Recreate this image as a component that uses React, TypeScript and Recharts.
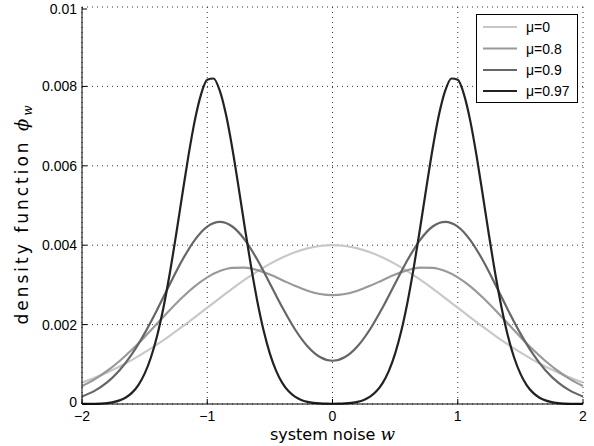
import { LineChart, Line, XAxis, YAxis, CartesianGrid } from 'recharts';

// grid for the three wide curves (step 0.1)
const wCoarse = [
  -2, -1.9, -1.8, -1.7, -1.6, -1.5, -1.4, -1.3, -1.2, -1.1, -1, -0.9, -0.8, -0.7, -0.6, -0.5, -0.4, -0.3, -0.2, -0.1,
  0, 0.1, 0.2, 0.3, 0.4, 0.5, 0.6, 0.7, 0.8, 0.9, 1, 1.1, 1.2, 1.3, 1.4, 1.5, 1.6, 1.7, 1.8, 1.9, 2,
];

const mu0 = [
  0.000541, 0.000658, 0.000792, 0.000943, 0.001112, 0.001299, 0.001501, 0.001718, 0.001947, 0.002184, 0.002426,
  0.002668, 0.002905, 0.003131, 0.003341, 0.00353, 0.003692, 0.003824, 0.003921, 0.00398, 0.004, 0.00398, 0.003921,
  0.003824, 0.003692, 0.00353, 0.003341, 0.003131, 0.002905, 0.002668, 0.002426, 0.002184, 0.001947, 0.001718,
  0.001501, 0.001299, 0.001112, 0.000943, 0.000792, 0.000658, 0.000541,
];

const mu08 = [
  0.000451, 0.000621, 0.000831, 0.001083, 0.001372, 0.00169, 0.002026, 0.002363, 0.002682, 0.002964, 0.00319,
  0.003348, 0.003429, 0.003434, 0.003372, 0.00326, 0.00312, 0.002976, 0.002853, 0.00277, 0.002741, 0.00277, 0.002853,
  0.002976, 0.00312, 0.00326, 0.003372, 0.003434, 0.003429, 0.003348, 0.00319, 0.002964, 0.002682, 0.002363,
  0.002026, 0.00169, 0.001372, 0.001083, 0.000831, 0.000621, 0.000451,
];

const mu09 = [
  0.00019, 0.00033, 0.000544, 0.000852, 0.001264, 0.001779, 0.002376, 0.003012, 0.003621, 0.00413, 0.004469,
  0.004589, 0.004471, 0.004135, 0.003633, 0.003038, 0.00243, 0.001883, 0.001454, 0.001182, 0.001089, 0.001182,
  0.001454, 0.001883, 0.00243, 0.003038, 0.003633, 0.004135, 0.004471, 0.004589, 0.004469, 0.00413, 0.003621,
  0.003012, 0.002376, 0.001779, 0.001264, 0.000852, 0.000544, 0.00033, 0.00019,
];

// finer grid for the narrow mu=0.97 curve (step 0.05)
const wFine = [
  -2, -1.95, -1.9, -1.85, -1.8, -1.75, -1.7, -1.65, -1.6, -1.55, -1.5, -1.45, -1.4, -1.35, -1.3, -1.25, -1.2, -1.15,
  -1.1, -1.05, -1, -0.95, -0.9, -0.85, -0.8, -0.75, -0.7, -0.65, -0.6, -0.55, -0.5, -0.45, -0.4, -0.35, -0.3, -0.25,
  -0.2, -0.15, -0.1, -0.05, 0, 0.05, 0.1, 0.15, 0.2, 0.25, 0.3, 0.35, 0.4, 0.45, 0.5, 0.55, 0.6, 0.65, 0.7, 0.75, 0.8,
  0.85, 0.9, 0.95, 1, 1.05, 1.1, 1.15, 1.2, 1.25, 1.3, 1.35, 1.4, 1.45, 1.5, 1.55, 1.6, 1.65, 1.7, 1.75, 1.8, 1.85,
  1.9, 1.95, 2,
];

const mu097 = [
  0.000001, 0.0000024, 0.0000055, 0.0000118, 0.0000242, 0.0000479, 0.0000907, 0.0001645, 0.0002864, 0.0004779,
  0.0007641, 0.0011713, 0.0017211, 0.0024248, 0.0032743, 0.0042382, 0.0052587, 0.0062546, 0.007131, 0.0077934,
  0.0081647, 0.0081993, 0.007893, 0.0072835, 0.0064425, 0.0054627, 0.0044402, 0.0034594, 0.0025837, 0.0018497,
  0.0012694, 0.0008351, 0.0005266, 0.0003184, 0.0001845, 0.0001025, 0.0000545, 0.000028, 0.0000141, 0.0000076,
  0.0000057,
  0.0000076, 0.0000141, 0.000028, 0.0000545, 0.0001025, 0.0001845, 0.0003184, 0.0005266, 0.0008351, 0.0012694,
  0.0018497, 0.0025837, 0.0034594, 0.0044402, 0.0054627, 0.0064425, 0.0072835, 0.007893, 0.0081993, 0.0081647,
  0.0077934, 0.007131, 0.0062546, 0.0052587, 0.0042382, 0.0032743, 0.0024248, 0.0017211, 0.0011713, 0.0007641,
  0.0004779, 0.0002864, 0.0001645, 0.0000907, 0.0000479, 0.0000242, 0.0000118, 0.0000055, 0.0000024, 0.000001,
];

const xTicks = [-2, -1, 0, 1, 2];
const xTickLabels = ['\u22122', '\u22121', '0', '1', '2'];
const yTicks = [0, 0.002, 0.004, 0.006, 0.008, 0.01];
const yTickLabels = ['0', '0.002', '0.004', '0.006', '0.008', '0.01'];

const seriesNames = ['\u03bc=0', '\u03bc=0.8', '\u03bc=0.9', '\u03bc=0.97'];
const seriesKeys = ['mu0', 'mu08', 'mu09', 'mu097'];
const seriesColors = ['#c8c8c8', '#999999', '#666666', '#222222'];

const wideRows = wCoarse.map((w, i) => ({ w, mu0: mu0[i], mu08: mu08[i], mu09: mu09[i] }));
const fineRows = wFine.map((w, i) => ({ w, mu097: mu097[i] }));

const FONT = '"Liberation Sans", Arial, Helvetica, sans-serif';
const TITLE_FONT = '"DejaVu Sans", Verdana, sans-serif';
const MATH_FONT = '"DejaVu Serif", serif';
const TICK_LEN = 5;

const BottomTick = (props: any) => {
  const { x, y, payload } = props;
  const i = xTicks.indexOf(payload.value);
  const axisY = y - 6;
  return (
    <g>
      <line x1={x} x2={x} y1={axisY} y2={axisY - TICK_LEN} stroke="#000" />
      <text x={x} y={axisY + 17} textAnchor="middle" fontSize={14} fontFamily={FONT} fill="#000">
        {xTickLabels[i]}
      </text>
    </g>
  );
};

const TopTick = (props: any) => {
  const { x, y } = props;
  return <line x1={x} x2={x} y1={y} y2={y + TICK_LEN} stroke="#000" />;
};

const LeftTick = (props: any) => {
  const { x, y, payload } = props;
  const i = yTicks.indexOf(payload.value);
  const axisX = x + 5;
  const lift = payload.value === 0 ? 2 : 0;
  return (
    <g>
      <line x1={axisX} x2={axisX + TICK_LEN} y1={y} y2={y} stroke="#000" />
      <text x={x} y={y - lift} dy="0.36em" textAnchor="end" fontSize={14} fontFamily={FONT} fill="#000">
        {yTickLabels[i]}
      </text>
    </g>
  );
};

const RightTick = (props: any) => {
  const { x, y } = props;
  return <line x1={x} x2={x - TICK_LEN} y1={y} y2={y} stroke="#000" />;
};

const XTitle = (props: any) => {
  const vb = props.viewBox;
  return (
    <text x={vb.x + vb.width / 2} y={vb.y + 36} textAnchor="middle" fontSize={16} fontFamily={TITLE_FONT} fill="#000">
      system noise{' '}
      <tspan fontFamily={MATH_FONT} fontStyle="italic" fontSize={17}>w</tspan>
    </text>
  );
};

const YTitle = (props: any) => {
  const vb = props.viewBox;
  const cx = 22;
  const cy = vb.y + vb.height / 2 + 8;
  return (
    <text
      x={cx}
      y={cy}
      dy="0.35em"
      textAnchor="middle"
      fontSize={17}
      letterSpacing={3}
      fontFamily={TITLE_FONT}
      fill="#000"
      transform={`rotate(-90 ${cx} ${cy})`}
    >
      density function{' '}
      <tspan fontFamily={MATH_FONT} fontStyle="italic" fontSize={18}>{'\u03d5'}</tspan>
      <tspan fontFamily={MATH_FONT} fontStyle="italic" fontSize={12} dy="4">w</tspan>
    </text>
  );
};

const legendRowY = [27, 48.5, 70, 91];

export default function App() {
  return (
    <div style={{ position: 'absolute', left: 0, top: 0, width: 594, height: 446, background: '#fff' }}>
      <LineChart width={594} height={446} data={wideRows} margin={{ top: 7, right: 11, bottom: 0, left: 0 }}>
        <CartesianGrid stroke="#333" strokeDasharray="1 4" />
        <XAxis
          dataKey="w"
          type="number"
          domain={[-2, 2]}
          ticks={xTicks}
          height={42}
          tickSize={0}
          tickMargin={6}
          tick={<BottomTick />}
          axisLine={{ stroke: '#000' }}
          label={<XTitle />}
        />
        <XAxis
          xAxisId="top"
          orientation="top"
          type="number"
          domain={[-2, 2]}
          ticks={xTicks}
          height={0}
          tickSize={0}
          tickMargin={0}
          tick={<TopTick />}
          axisLine={{ stroke: '#000' }}
        />
        <YAxis
          type="number"
          domain={[0, 0.01]}
          ticks={yTicks}
          width={82}
          tickSize={0}
          tickMargin={5}
          tick={<LeftTick />}
          axisLine={{ stroke: '#000' }}
          label={<YTitle />}
        />
        <YAxis
          yAxisId="right"
          orientation="right"
          type="number"
          domain={[0, 0.01]}
          ticks={yTicks}
          width={0}
          tickSize={0}
          tickMargin={0}
          tick={<RightTick />}
          axisLine={{ stroke: '#000' }}
        />
        {seriesKeys.slice(0, 3).map((k, i) => (
          <Line
            key={k}
            dataKey={k}
            type="monotone"
            stroke={seriesColors[i]}
            strokeWidth={2.2}
            dot={false}
            isAnimationActive={false}
          />
        ))}
        <Line
          data={fineRows}
          dataKey="mu097"
          type="monotone"
          stroke={seriesColors[3]}
          strokeWidth={2.2}
          dot={false}
          isAnimationActive={false}
        />
      </LineChart>
      <svg width={594} height={446} style={{ position: 'absolute', left: 0, top: 0, pointerEvents: 'none' }}>
        <rect x={476.5} y={14.5} width={101} height={88} fill="#fff" stroke="#000" />
        {seriesNames.map((name, i) => (
          <g key={name}>
            <line x1={483} x2={517} y1={legendRowY[i]} y2={legendRowY[i]} stroke={seriesColors[i]} strokeWidth={2.2} />
            <text x={526} y={legendRowY[i]} dy="0.36em" fontSize={14} fontFamily={FONT} fill="#000">
              {name}
            </text>
          </g>
        ))}
      </svg>
    </div>
  );
}
